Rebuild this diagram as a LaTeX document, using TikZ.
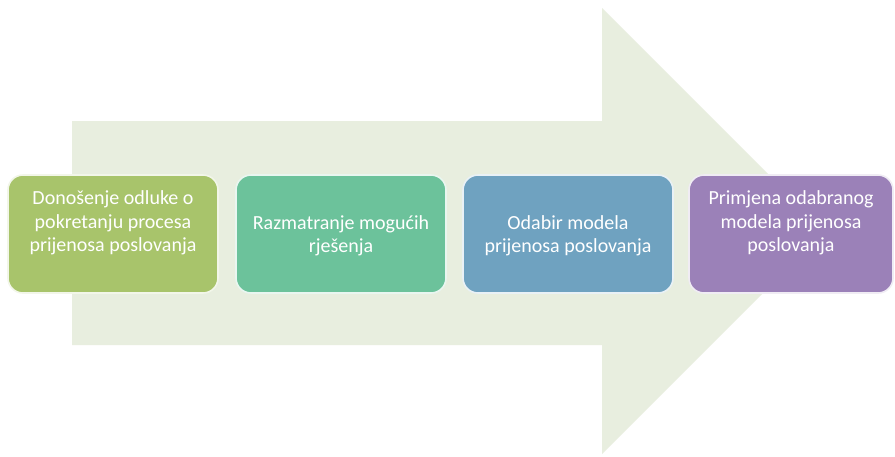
\documentclass[tikz,border=0pt]{standalone}
\usepackage{fontspec}
\setmainfont{Carlito}
\definecolor{arrowfill}{HTML}{E8EEDF}
\definecolor{cA}{HTML}{A8C46B}
\definecolor{cB}{HTML}{6CC29B}
\definecolor{cC}{HTML}{6FA2C0}
\definecolor{cD}{HTML}{9B81B8}
\begin{document}
\begin{tikzpicture}[x=1pt,y=-1pt,
  stepbox/.style={draw=white!85!#1, line width=1.6pt, fill=#1, rounded corners=15pt,
    minimum width=210pt, minimum height=118pt, inner sep=0pt},
  steptext/.style={text=white, align=center, font=\fontsize{20}{23.5}\selectfont, inner sep=0pt}]
\useasboundingbox (0,0) rectangle (895,456);
\fill[white] (0,0) rectangle (895,456);
% big arrow
\coordinate (tip) at (825,231);
\fill[arrowfill] (72,121) -- (602,121) -- (602,8) -- (tip) -- (602,454) -- (602,345) -- (72,345) -- cycle;
% boxes
\node[stepbox=cA] (b1) at (113,234) {};
\node[stepbox=cB] (b2) at (341,234) {};
\node[stepbox=cC] (b3) at (568,234) {};
\node[stepbox=cD, minimum width=204pt] (b4) at (791,234) {};
% texts
\node[steptext] (t1) at (113,223) {Donošenje odluke o\\pokretanju procesa\\prijenosa poslovanja};
\node[steptext] (t2) at (341,236) {Razmatranje mogućih\\rješenja};
\node[steptext] (t3) at (568,236) {Odabir modela\\prijenosa poslovanja};
\node[steptext] (t4) at (791,223) {Primjena odabranog\\modela prijenosa\\poslovanja};
\end{tikzpicture}
\end{document}
